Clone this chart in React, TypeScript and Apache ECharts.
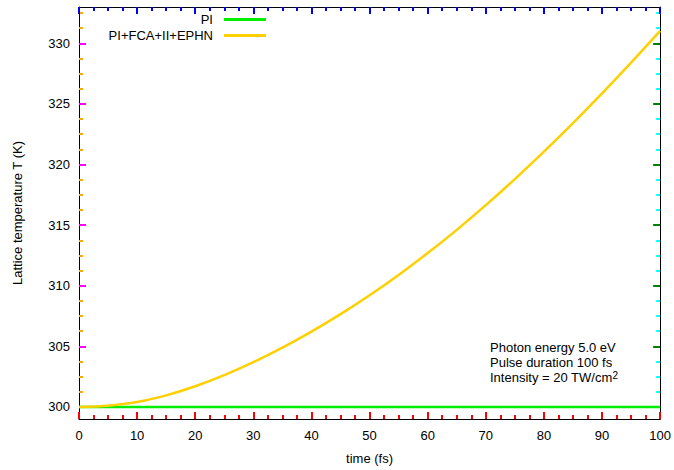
import React, { useEffect, useRef } from "react";
import * as echarts from "echarts";

const timeFs = [0, 5, 10, 15, 20, 25, 30, 35, 40, 45, 50, 55, 60, 65, 70, 75, 80, 85, 90, 95, 100];
const tempPI = [300, 300, 300, 300, 300, 300, 300, 300, 300, 300, 300, 300, 300, 300, 300, 300, 300, 300, 300, 300, 300];
const tempFull = [300.0, 300.1, 300.4, 300.95, 301.7, 302.62, 303.69, 304.89, 306.21, 307.65, 309.21, 310.89, 312.69, 314.61, 316.65, 318.8, 321.06, 323.42, 325.87, 328.41, 331.03];
const seriesNames = ["PI", "PI+FCA+II+EPHN"];
const yMajorTicks = [300, 305, 310, 315, 320, 325, 330];
const annotationLines = ["Photon energy 5.0 eV", "Pulse duration 100 fs"];

const FONT = "Liberation Sans, Arial, Helvetica, sans-serif";

export default function App() {
  const ref = useRef<HTMLDivElement>(null);
  useEffect(() => {
    document.body.style.margin = "0";
    document.body.style.overflow = "hidden";
    if (!ref.current) return;
    const chart = echarts.init(ref.current, undefined, { renderer: "svg" });
    const yMin = 299;
    const yMax = 333;
    const yMinor: number[] = [];
    for (let v = 300; v <= yMax + 1e-9; v += 1.25) {
      if (Math.abs((v - 300) % 5) > 1e-9) yMinor.push(v);
    }
    const xAxis = (pos: "bottom" | "top", showLabel: boolean, c: string): any => ({
      type: "value",
      position: pos,
      min: 0,
      max: 100,
      interval: 10,
      axisLine: { show: true, onZero: false, lineStyle: { color: "#000", width: 1 } },
      axisTick: { show: true, inside: true, length: 7, lineStyle: { color: c, width: 2 } },
      minorTick: { show: true, splitNumber: 4, length: 4, lineStyle: { color: c, width: 2 } },
      axisLabel: { show: showLabel, color: "#000", fontFamily: FONT, fontSize: 13, margin: 10 },
      splitLine: { show: false },
    });
    const yAxis = (pos: "left" | "right", showLabel: boolean, ticks: number[], len: number, line: boolean, c: string): any => ({
      type: "value",
      position: pos,
      min: yMin,
      max: yMax,
      axisLine: { show: line, onZero: false, lineStyle: { color: "#000", width: 1 } },
      axisTick: { show: true, inside: true, length: len, customValues: ticks, lineStyle: { color: c, width: 2 } },
      axisLabel: showLabel
        ? { show: true, customValues: ticks, color: "#000", fontFamily: FONT, fontSize: 13, margin: 9 }
        : { show: false },
      splitLine: { show: false },
    });
    const bottomX = xAxis("bottom", true, "red");
    bottomX.name = "time (fs)";
    bottomX.nameLocation = "middle";
    bottomX.nameGap = 33;
    bottomX.nameTextStyle = { color: "#000", fontFamily: FONT, fontSize: 13 };
    const leftY = yAxis("left", true, yMajorTicks, 7, true, "magenta");
    leftY.name = "Lattice temperature T (K)";
    leftY.nameLocation = "middle";
    leftY.nameGap = 55;
    leftY.nameTextStyle = { color: "#000", fontFamily: FONT, fontSize: 13 };
    const colors = ["#00ee00", "#ffd000"];
    const values = [tempPI, tempFull];
    const legendTops = [13, 29];
    chart.setOption({
      animation: false,
      grid: { left: 79, right: 13, top: 7, bottom: 51 },
      xAxis: [bottomX, xAxis("top", false, "blue")],
      yAxis: [
        leftY,
        yAxis("right", false, yMajorTicks, 7, true, "green"),
        yAxis("left", false, yMinor, 4, false, "orange"),
        yAxis("right", false, yMinor, 4, false, "cyan"),
      ],
      legend: seriesNames.map((name, i) => ({
        data: [name],
        orient: "vertical",
        align: "right",
        right: 408,
        top: legendTops[i],
        padding: 0,
        itemWidth: 42,
        itemHeight: 3,
        icon: "rect",
        selectedMode: false,
        textStyle: { color: "#000", fontFamily: FONT, fontSize: 13, padding: [0, 6, 0, 0] },
      })),
      series: seriesNames.map((name, i) => ({
        name,
        type: "line",
        xAxisIndex: 0,
        yAxisIndex: 0,
        data: timeFs.map((t, j) => [t, values[i][j]]),
        smooth: 0.3,
        showSymbol: false,
        symbol: "none",
        color: colors[i],
        lineStyle: { color: colors[i], width: 2.5 },
      })),
      graphic: [
        {
          type: "text",
          left: 490,
          top: 340,
          style: {
            text: annotationLines.join("\n") + "\nIntensity = 20 TW/cm{sup|2}",
            fill: "#000",
            font: `13px ${FONT}`,
            lineHeight: 15,
            rich: {
              sup: { fontSize: 10, verticalAlign: "top", lineHeight: 15, fontFamily: FONT, padding: [0, 0, 8, 0] },
            },
          },
        },
      ],
    } as any);
    return () => chart.dispose();
  }, []);
  return <div ref={ref} style={{ position: "absolute", left: 0, top: 0, width: 674, height: 470, background: "#fff" }} />;
}
